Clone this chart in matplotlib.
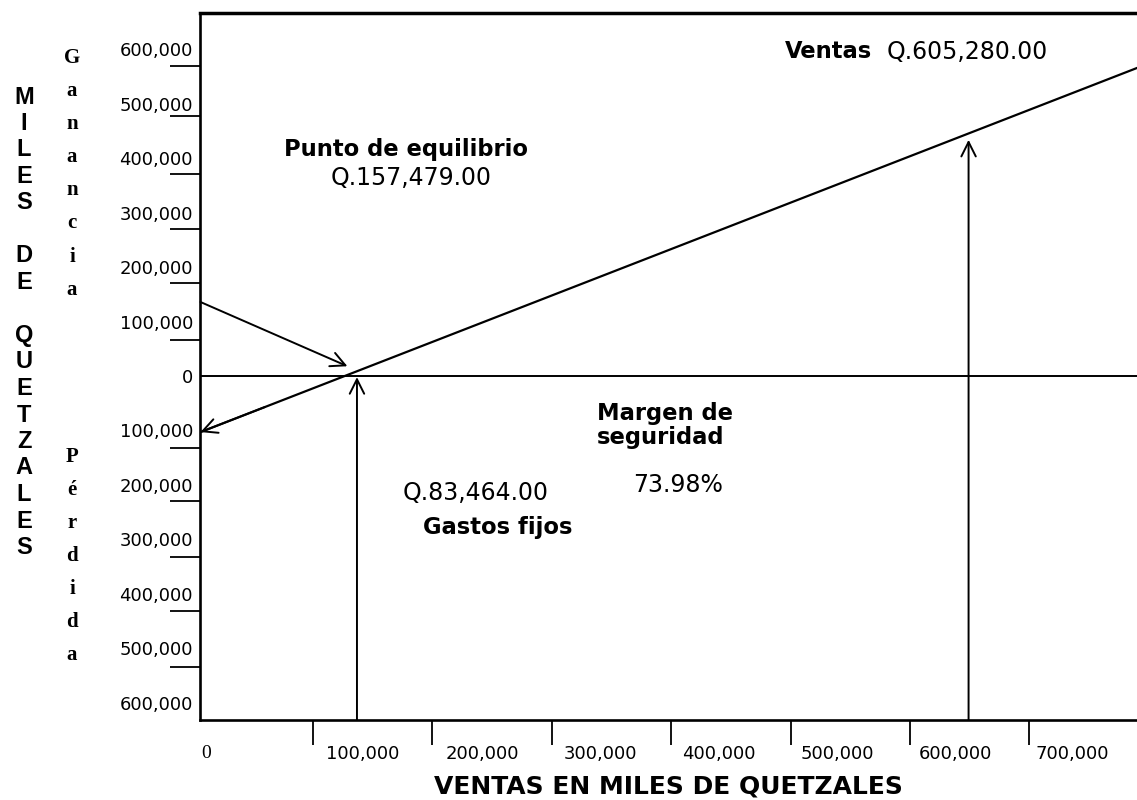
import matplotlib.pyplot as plt

# eje x: marcas cada 100,000; las etiquetas quedan corridas a la derecha como en el original
x_tick_marks = [100000, 200000, 300000, 400000, 500000, 600000, 700000]
x_label_pos = [11000, 142000, 242000, 341000, 440000, 539000, 638000, 736000]
x_labels = ['0', '100,000', '200,000', '300,000', '400,000', '500,000', '600,000', '700,000']

# eje y: ganancia arriba, perdida abajo (etiquetas sin signo)
y_label_pos = [600000, 500000, 400000, 300000, 200000, 100000, 0,
               -100000, -200000, -300000, -400000, -500000, -600000]
y_labels = ['600,000', '500,000', '400,000', '300,000', '200,000', '100,000', '0',
            '100,000', '200,000', '300,000', '400,000', '500,000', '600,000']
y_tick_marks = [570000, 478000, 371000, 270000, 171000, 66000,
                -133000, -230000, -332000, -431000, -534000]

# recta de resultados (perdida con gastos fijos -> ganancia)
line_x = [6000, 790000]
line_y = [-103000, 566000]

# flecha al punto de equilibrio
eq_arrow_from = (6000, 136000)
eq_arrow_to = (129000, 18000)

equilibrio_x = 137000
ventas_x = 649000
ventas_top = 434000

x_min, x_max = 5600, 790000
y_min, y_max = -632000, 667000

fig = plt.figure(figsize=(11.37, 8), dpi=100)
ax = fig.add_axes([200 / 1137, 0.1, 937 / 1137, 0.88375])
ax.set_xlim(x_min, x_max)
ax.set_ylim(y_min, y_max)

for side in ['left', 'bottom']:
    ax.spines[side].set_linewidth(1.9)
ax.spines['top'].set_linewidth(2.5)
ax.spines['right'].set_visible(False)

# ticks
ax.set_xticks(x_tick_marks)
ax.tick_params(axis='x', which='major', length=18, width=1.3, labelbottom=False)
ax.set_xticks(x_label_pos, x_labels, minor=True)
ax.tick_params(axis='x', which='minor', length=0, pad=18, labelsize=13)
zero_lbl = ax.get_xticklabels(minor=True)[0]
zero_lbl.set_fontfamily('Liberation Serif')
zero_lbl.set_fontsize(14)

ax.set_yticks(y_label_pos, y_labels)
ax.tick_params(axis='y', which='major', length=0, pad=5, labelsize=13)
ax.set_yticks(y_tick_marks, minor=True)
ax.tick_params(axis='y', which='minor', length=21.6, width=1.3)

ax.set_xlabel('VENTAS EN MILES DE QUETZALES', fontsize=18, fontweight='bold', labelpad=8)

# linea de cero
ax.plot([x_min, x_max], [0, 0], color='black', lw=1.4)

arrow = dict(arrowstyle='->', color='black', lw=1.4, mutation_scale=26, shrinkA=0, shrinkB=0)

# recta con flecha hacia los gastos fijos
ax.plot(line_x, line_y, color='black', lw=1.6)
slope = (line_y[1] - line_y[0]) / (line_x[1] - line_x[0])
ax.annotate('', xy=(line_x[0], line_y[0]), xytext=(60000, line_y[0] + slope * 54000),
            arrowprops=arrow)

ax.annotate('', xy=eq_arrow_to, xytext=eq_arrow_from, arrowprops=arrow)
ax.annotate('', xy=(equilibrio_x, -2000), xytext=(equilibrio_x, y_min), arrowprops=arrow)
ax.annotate('', xy=(ventas_x, ventas_top), xytext=(ventas_x, y_min), arrowprops=arrow)

# textos
bold = dict(fontsize=16.3, fontweight='bold')
reg = dict(fontsize=17)
ax.text(178000, 417000, 'Punto de equilibrio', ha='center', va='center', **bold)
ax.text(182000, 364000, 'Q.157,479.00', ha='center', va='center', **reg)
ax.text(495600, 595600, 'Ventas', ha='left', va='center', **bold)
ax.text(580000, 595600, 'Q.605,280.00', ha='left', va='center', **reg)
ax.text(338000, -91000, 'Margen de\nseguridad', ha='left', va='center', linespacing=1.08, **bold)
ax.text(406000, -200000, '73.98%', ha='center', va='center', **reg)
ax.text(236000, -215000, 'Q.83,464.00', ha='center', va='center', **reg)
ax.text(255000, -277600, 'Gastos fijos', ha='center', va='center', **bold)

# titulo vertical del eje y, letra por letra
for i, ch in enumerate('MILES DE QUETZALES'):
    if ch != ' ':
        fig.text(24 / 1137, 1 - (97 + i * 26.5) / 800, ch, ha='center', va='center',
                 fontsize=17, fontweight='bold', family='Liberation Sans')

for i, ch in enumerate('Ganancia'):
    fig.text(72 / 1137, 1 - (58 + i * 33.1) / 800, ch, ha='center', va='center',
             fontsize=15, fontweight='bold', family='Liberation Serif')

for i, ch in enumerate('Pérdida'):
    fig.text(72 / 1137, 1 - (457 + i * 33) / 800, ch, ha='center', va='center',
             fontsize=15, fontweight='bold', family='Liberation Serif')

fig.savefig('out.png', dpi=100)
